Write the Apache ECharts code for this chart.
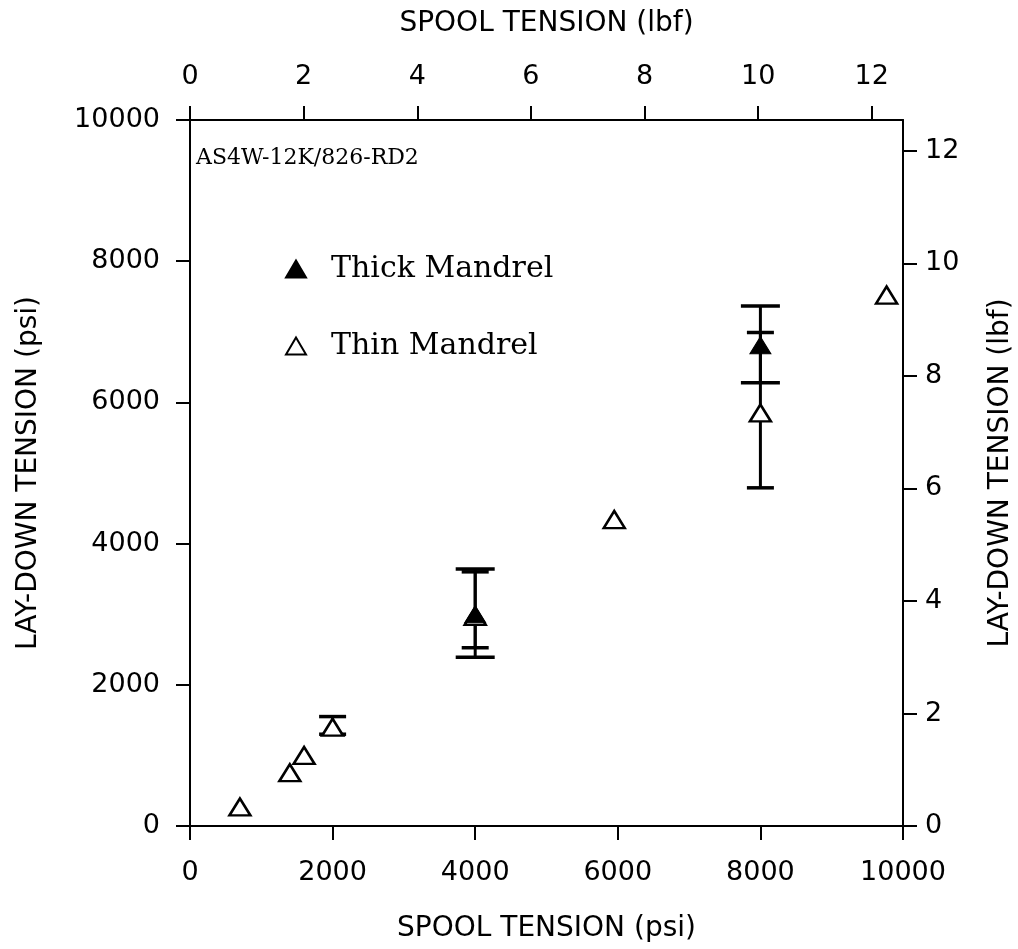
<!DOCTYPE html>
<html>
<head>
<meta charset="utf-8">
<script src="https://cdn.jsdelivr.net/npm/echarts@6/dist/echarts.min.js"></script>
<style>html,body{margin:0;padding:0;background:#fff;}#c{width:1018px;height:949px;}</style>
</head>
<body>
<div id="c"></div>
<script>
// ---- data ----
const psiTicks = [0, 2000, 4000, 6000, 8000, 10000];
const lbfTicks = [0, 2, 4, 6, 8, 10, 12];
const thickX = [4000, 8000];
const thickY = [3000, 6810];
const thickLow = [2390, 6280];
const thickHigh = [3640, 7365];
const thinX = [700, 1400, 1600, 2000, 4000, 5950, 8000, 9770];
const thinY = [270, 755, 1000, 1400, 2970, 4340, 5850, 7520];
const thinErrX = [2000, 4000, 8000];
const thinErrLow = [1300, 2525, 4790];
const thinErrHigh = [1550, 3600, 6990];
const annotation = 'AS4W-12K/826-RD2';
const PSI_MAX = 10000;
const LBF_MAX = 12.55; // lbf equivalent of 10000 psi

const sans = 'DejaVu Sans';
const serif = 'DejaVu Serif';

function errRender(halfW) {
  return function (params, api) {
    const x = api.value(0);
    const lo = api.coord([x, api.value(1)]);
    const hi = api.coord([x, api.value(2)]);
    const st = { stroke: '#000', lineWidth: 3 };
    const cap = { stroke: '#000', lineWidth: 3.5 };
    return {
      type: 'group',
      children: [
        { type: 'line', shape: { x1: lo[0], y1: lo[1], x2: hi[0], y2: hi[1] }, style: st },
        { type: 'line', shape: { x1: hi[0] - halfW, y1: hi[1], x2: hi[0] + halfW, y2: hi[1] }, style: cap },
        { type: 'line', shape: { x1: lo[0] - halfW, y1: lo[1], x2: lo[0] + halfW, y2: lo[1] }, style: cap }
      ]
    };
  };
}

const axisCommon = {
  axisLine: { show: true, onZero: false, lineStyle: { color: '#000', width: 2 } },
  axisTick: { show: true, inside: false, length: 14, lineStyle: { color: '#000', width: 2 } },
  splitLine: { show: false },
  nameLocation: 'middle',
  nameTextStyle: { fontFamily: sans, fontSize: 28, color: '#000' }
};
const labelCommon = { fontFamily: sans, fontSize: 27, color: '#000', formatter: v => String(v) };

const chart = echarts.init(document.getElementById('c'), null, { renderer: 'canvas' });
chart.setOption({
  backgroundColor: '#fff',
  animation: false,
  grid: { left: 190, right: 115, top: 120, bottom: 123, containLabel: false, outerBoundsMode: 'none' },
  xAxis: [
    Object.assign({}, axisCommon, {
      type: 'value', position: 'bottom', min: 0, max: PSI_MAX, interval: 2000,
      name: 'SPOOL TENSION (psi)', nameGap: 89,
      axisLabel: Object.assign({}, labelCommon, { margin: 33 })
    }),
    Object.assign({}, axisCommon, {
      type: 'value', position: 'top', min: 0, max: LBF_MAX,
      name: 'SPOOL TENSION (lbf)', nameGap: 82,
      axisTick: Object.assign({}, axisCommon.axisTick, { customValues: lbfTicks }),
      axisLabel: Object.assign({}, labelCommon, { margin: 30, customValues: lbfTicks })
    })
  ],
  yAxis: [
    Object.assign({}, axisCommon, {
      type: 'value', position: 'left', min: 0, max: PSI_MAX, interval: 2000,
      name: 'LAY-DOWN TENSION (psi)', nameGap: 147,
      axisLabel: Object.assign({}, labelCommon, { margin: 30 })
    }),
    Object.assign({}, axisCommon, {
      type: 'value', position: 'right', min: 0, max: LBF_MAX,
      name: 'LAY-DOWN TENSION (lbf)', nameGap: 84,
      axisTick: Object.assign({}, axisCommon.axisTick, { customValues: lbfTicks }),
      axisLabel: Object.assign({}, labelCommon, { margin: 22, customValues: lbfTicks })
    })
  ],
  legend: {
    orient: 'vertical', left: 280, top: 249,
    itemWidth: 20, itemHeight: 17, itemGap: 47,
    textStyle: { fontFamily: serif, fontSize: 30, color: '#000', lineHeight: 26, padding: [0, 0, 0, 20] },
    data: ['Thick Mandrel', 'Thin Mandrel']
  },
  graphic: [{
    type: 'text', left: 196, top: 147,
    style: { text: annotation, fontFamily: serif, fontSize: 22, fill: '#000' }
  }],
  series: [
    {
      type: 'custom', name: 'thinErr', renderItem: errRender(13.5), z: 2,
      data: thinErrX.map((x, i) => [x, thinErrLow[i], thinErrHigh[i]]),
      encode: { x: 0, y: [1, 2] }, silent: true
    },
    {
      type: 'custom', name: 'thickErr', renderItem: errRender(19.5), z: 2,
      data: thickX.map((x, i) => [x, thickLow[i], thickHigh[i]]),
      encode: { x: 0, y: [1, 2] }, silent: true
    },
    {
      type: 'scatter', name: 'Thin Mandrel', symbol: 'triangle', symbolSize: [21, 17], z: 3,
      itemStyle: { color: '#fff', borderColor: '#000', borderWidth: 2.5, opacity: 1 },
      data: thinX.map((x, i) => [x, thinY[i]])
    },
    {
      type: 'scatter', name: 'Thick Mandrel', symbol: 'triangle', symbolSize: [21, 17], z: 4,
      itemStyle: { color: '#000', borderColor: '#000', borderWidth: 1, opacity: 1 },
      data: thickX.map((x, i) => [x, thickY[i]])
    }
  ]
});
</script>
</body>
</html>
